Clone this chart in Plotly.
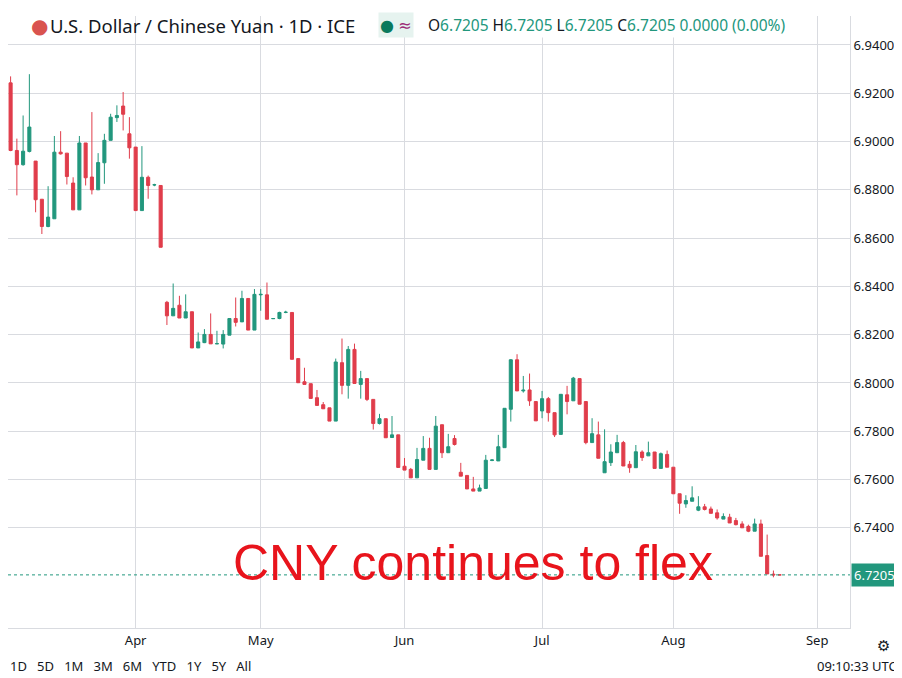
import pandas as pd
import plotly.graph_objects as go

opens = [6.9243,6.8963,6.8904,6.8959,6.8919,6.8761,6.8648,6.8680,6.8956,6.8952,6.8828,6.8717,6.8994,6.8853,6.8800,6.8912,6.9005,6.9099,6.9147,6.9032,6.8977,6.8714,6.8852,6.8820,6.8818,
         6.8334,6.8278,6.8322,6.8269,6.8295,6.8145,6.8167,6.8201,6.8162,6.8161,6.8198,6.8267,6.8253,6.8350,6.8219,6.8365,6.8365,6.8266,6.8267,6.8292,
         6.8292,6.8101,6.8005,6.7997,6.7939,6.7910,6.7897,6.7842,6.8084,6.7990,6.8139,6.7994,6.8018,6.7932,6.7832,6.7852,6.7774,6.7785,6.7655,6.7642,6.7607,6.7680,6.7729,6.7642,6.7827,6.7711,6.7770,
         6.7630,6.7617,6.7561,6.7552,6.7563,6.7679,6.7677,6.7732,6.7891,6.8096,6.7967,6.7971,6.7923,6.7884,6.7935,6.7877,6.7787,6.7951,6.7926,6.8018,6.7923,6.7753,6.7785,6.7628,6.7670,6.7711,6.7753,6.7663,6.7649,6.7714,6.7698,6.7714,6.7646,
         6.7704,6.7651,6.7541,6.7499,6.7510,6.7473,6.7487,6.7478,6.7462,6.7436,6.7444,6.7430,6.7416,6.7406,6.7386,6.7416,6.7285,6.7208,6.7205]
highs = [6.9270,6.9012,6.9108,6.9279,6.8919,6.8761,6.8815,6.9023,6.9043,6.8952,6.8852,6.9023,6.8994,6.9122,6.8952,6.9032,6.9115,6.9150,6.9205,6.9101,6.8977,6.8981,6.8859,6.8825,6.8818,
         6.8340,6.8412,6.8361,6.8367,6.8295,6.8209,6.8223,6.8288,6.8216,6.8219,6.8267,6.8354,6.8382,6.8350,6.8389,6.8389,6.8416,6.8269,6.8295,6.8299,
         6.8292,6.8101,6.8063,6.7997,6.7971,6.7921,6.7897,6.8101,6.8184,6.8153,6.8163,6.8050,6.8018,6.7932,6.7872,6.7852,6.7863,6.7785,6.7689,6.7648,6.7731,6.7780,6.7773,6.7863,6.7827,6.7789,6.7784,
         6.7669,6.7617,6.7611,6.7579,6.7702,6.7684,6.7785,6.7895,6.8099,6.8119,6.8029,6.8039,6.7923,6.7967,6.7942,6.7877,6.7953,6.7988,6.8025,6.8018,6.7923,6.7854,6.7840,6.7808,6.7746,6.7785,6.7760,6.7677,6.7743,6.7721,6.7757,6.7714,6.7712,
         6.7720,6.7651,6.7541,6.7535,6.7572,6.7531,6.7499,6.7488,6.7476,6.7460,6.7458,6.7441,6.7427,6.7413,6.7438,6.7434,6.7372,6.7223,6.7206]
lows = [6.8960,6.8777,6.8900,6.8955,6.8707,6.8617,6.8645,6.8680,6.8946,6.8822,6.8717,6.8717,6.8818,6.8781,6.8800,6.8825,6.9005,6.9081,6.9046,6.8929,6.8714,6.8714,6.8763,6.8815,6.8562,
        6.8240,6.8278,6.8269,6.8269,6.8145,6.8145,6.8165,6.8162,6.8161,6.8143,6.8198,6.8234,6.8253,6.8219,6.8219,6.8299,6.8264,6.8265,6.8264,6.8289,
        6.8098,6.8001,6.7994,6.7936,6.7907,6.7893,6.7842,6.7842,6.7953,6.7935,6.7998,6.7935,6.7925,6.7807,6.7828,6.7773,6.7774,6.7650,6.7639,6.7607,6.7607,6.7680,6.7642,6.7642,6.7689,6.7711,6.7741,
        6.7614,6.7561,6.7552,6.7552,6.7563,6.7676,6.7677,6.7732,6.7840,6.7967,6.7960,6.7905,6.7843,6.7854,6.7840,6.7776,6.7787,6.7870,6.7926,6.7912,6.7746,6.7753,6.7688,6.7628,6.7656,6.7711,6.7656,6.7628,6.7649,6.7677,6.7698,6.7646,6.7646,
        6.7651,6.7541,6.7458,6.7483,6.7510,6.7469,6.7472,6.7460,6.7434,6.7436,6.7420,6.7410,6.7400,6.7382,6.7386,6.7282,6.7209,6.7195,6.7204]
closes = [6.8963,6.8904,6.8960,6.9060,6.8759,6.8648,6.8687,6.8956,6.8949,6.8855,6.8717,6.8994,6.8850,6.8800,6.8913,6.9005,6.9101,6.9108,6.9113,6.8974,6.8714,6.8852,6.8818,6.8821,6.8562,
          6.8278,6.8309,6.8269,6.8295,6.8145,6.8170,6.8201,6.8162,6.8163,6.8201,6.8267,6.8251,6.8350,6.8219,6.8367,6.8367,6.8264,6.8267,6.8292,6.8293,
          6.8098,6.8001,6.7994,6.7936,6.7907,6.7893,6.7842,6.8087,6.7990,6.8139,6.7998,6.8018,6.7932,6.7832,6.7852,6.7773,6.7785,6.7650,6.7639,6.7607,6.7683,6.7729,6.7642,6.7821,6.7711,6.7736,6.7745,
          6.7614,6.7561,6.7552,6.7565,6.7680,6.7681,6.7736,6.7895,6.8096,6.7967,6.7970,6.7926,6.7843,6.7935,6.7877,6.7785,6.7953,6.7923,6.8020,6.7912,6.7753,6.7790,6.7688,6.7674,6.7714,6.7753,6.7656,6.7649,6.7715,6.7691,6.7711,6.7646,6.7707,
          6.7651,6.7541,6.7502,6.7513,6.7524,6.7487,6.7476,6.7460,6.7441,6.7447,6.7420,6.7413,6.7400,6.7386,6.7416,6.7282,6.7209,6.7205,6.7205]

dates = pd.bdate_range(end="2017-08-24", periods=len(opens))
last_price = 6.7205
ytick_vals = [6.74, 6.76, 6.78, 6.80, 6.82, 6.84, 6.86, 6.88, 6.90, 6.92, 6.94]
month_ticks = ["2017-04-03", "2017-05-01", "2017-06-01", "2017-07-03", "2017-08-01", "2017-09-01"]
month_labels = ["Apr", "May", "Jun", "Jul", "Aug", "Sep"]

UP = "#22977d"
DOWN = "#e03d4b"
fig = go.Figure(go.Candlestick(
    x=dates, open=opens, high=highs, low=lows, close=closes,
    increasing=dict(line=dict(color=UP, width=1), fillcolor=UP),
    decreasing=dict(line=dict(color=DOWN, width=1), fillcolor=DOWN),
    whiskerwidth=0, showlegend=False, hoverinfo="skip"))

fig.add_hline(y=last_price, line=dict(color=UP, width=1, dash="dot"))

x0 = dates[0] - pd.Timedelta(hours=10)
fig.update_layout(
    width=902, height=678, margin=dict(l=0, r=60, t=8, b=58),
    paper_bgcolor="white", plot_bgcolor="white",
    font=dict(family="Noto Sans, DejaVu Sans", color="#131722", size=13),
    xaxis=dict(rangeslider=dict(visible=False), type="date",
               range=[x0, "2017-09-08T06:00"],
               rangebreaks=[dict(bounds=["sat", "mon"])],
               tickvals=month_ticks, ticktext=month_labels,
               showgrid=True, gridcolor="#d9dbe0", gridwidth=1,
               showline=True, linecolor="#d9dbe0", ticks="", tickfont=dict(size=13),
               zeroline=False),
    yaxis=dict(side="right", range=[6.6985, 6.9520], tickvals=ytick_vals,
               tickformat=".4f", showgrid=True, gridcolor="#d9dbe0",
               ticks="", tickfont=dict(size=13), zeroline=False,
               showline=True, linecolor="#d9dbe0"),
)

fig.add_annotation(x=1, xref="paper", y=last_price, yref="y", xanchor="left",
                   text="6.7205", showarrow=False, bgcolor=UP, font=dict(color="white", size=13),
                   borderpad=2, xshift=1)
fig.add_annotation(x=0.265, xref="paper", y=6.7255, yref="y", xanchor="left", yanchor="middle",
                   text="CNY continues to flex", showarrow=False,
                   font=dict(color="#e8141c", size=50, family="Liberation Sans, Noto Sans"))
fig.add_annotation(x=0.047, xref="paper", y=0.985, yref="paper", xanchor="left", yanchor="middle",
                   text="U.S. Dollar / Chinese Yuan · 1D · ICE", showarrow=False,
                   font=dict(size=18.5, color="#131722"))
fig.add_annotation(x=0.025, xref="paper", y=0.985, yref="paper", yanchor="middle", showarrow=False,
                   text="●", font=dict(size=20, color="#d9534f"))
fig.add_annotation(x=0.44, xref="paper", y=0.985, yref="paper", xanchor="left", yanchor="middle",
                   text="<span style='color:#0b7a5d'>●</span> <span style='color:#9c2a76'>≈</span>",
                   showarrow=False, font=dict(size=16), bgcolor="#e6f3ef")
fig.add_annotation(x=0.497, xref="paper", y=0.985, yref="paper", xanchor="left", yanchor="middle",
                   text=("O<span style='color:#22977d'>6.7205</span> H<span style='color:#22977d'>6.7205</span> "
                         "L<span style='color:#22977d'>6.7205</span> C<span style='color:#22977d'>6.7205</span> "
                         "<span style='color:#22977d'>0.0000 (0.00%)</span>"),
                   showarrow=False, font=dict(size=15.5, color="#131722"), bgcolor="white")
fig.add_annotation(x=0.0, xref="paper", y=-0.044, yref="paper", xanchor="left", yanchor="top",
                   text="1D   5D   1M   3M   6M   YTD   1Y   5Y   All", showarrow=False,
                   font=dict(size=13, color="#131722"))
fig.add_annotation(x=1.058, xref="paper", y=-0.044, yref="paper", xanchor="right", yanchor="top",
                   text="09:10:33 UTC", showarrow=False, font=dict(size=13, color="#131722"))
fig.add_annotation(x=1.04, xref="paper", y=-0.028, yref="paper", xanchor="center", yanchor="middle",
                   text="⚙", showarrow=False, font=dict(size=15, color="#131722"))

fig.write_html("out.html")
